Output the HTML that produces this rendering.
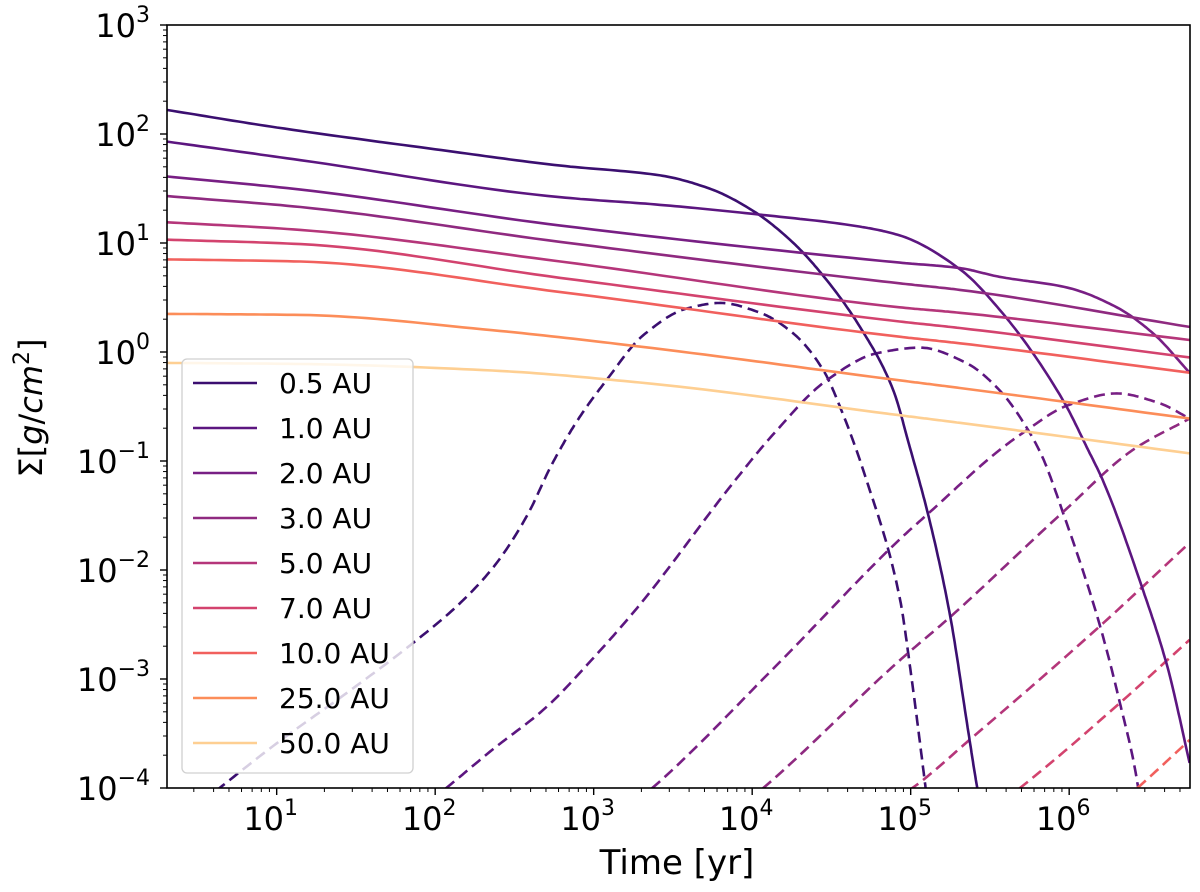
<!DOCTYPE html>
<html><head><meta charset="utf-8"><style>
html,body{margin:0;padding:0;background:#fff;}
svg{display:block;font-family:"DejaVu Sans","Liberation Sans",sans-serif;}
</style></head><body>
<svg id="chart" width="1200" height="892" viewBox="0 0 1200 892">
<defs><clipPath id="plotclip"><rect x="167" y="25" width="1023" height="763"/></clipPath></defs>
<g id="series-layer" clip-path="url(#plotclip)"></g>
<rect x="167" y="25" width="1023" height="763" fill="none" stroke="#000" stroke-width="1.6"/>
<g id="axis-layer"></g>
<text x="677" y="874" font-size="34" text-anchor="middle">Time [yr]</text>
<text transform="translate(42,408) rotate(-90)" font-size="32" text-anchor="middle">Σ[<tspan font-style="italic">g</tspan>/<tspan font-style="italic">cm</tspan><tspan font-size="22" dy="-13">2</tspan><tspan dy="13">]</tspan></text>
<g id="legend-layer"></g>
</svg>
<script>
// ---- data (log10 time [yr], log10 Sigma [g/cm^2]) ----
const labels = ["0.5 AU","1.0 AU","2.0 AU","3.0 AU","5.0 AU","7.0 AU","10.0 AU","25.0 AU","50.0 AU"];
const colors = ["#3b0f70","#5c1680","#781f84","#8f2a80","#b5367a","#d3436e","#f1605d","#fc8d59","#fecf92"];
const xTickExps = [1,2,3,4,5,6];
const yTickExps = [3,2,1,0,-1,-2,-3,-4];
const gasT0 = [0.31,1.0,2.0,2.79,3.42,3.73,4.00,4.26,4.47,4.68,4.89,4.99,5.12,5.25,5.36,5.42,5.5];
const gasS0 = [2.22,2.06,1.86,1.71,1.62,1.50,1.30,1.00,0.66,0.23,-0.35,-0.85,-1.55,-2.43,-3.45,-4.0,-4.6];
const gasT1 = [0.31,1.15,2.79,3.42,4.05,4.68,4.93,5.31,5.56,5.96,6.12,6.21,6.46,6.62,6.76];
const gasS1 = [1.93,1.76,1.42,1.35,1.26,1.15,1.07,0.76,0.39,-0.44,-0.90,-1.17,-2.16,-2.89,-3.77];
const gasT2 = [0.31,1.15,2.79,4.93,5.31,5.56,5.99,6.30,6.53,6.76];
const gasS2 = [1.61,1.49,1.16,0.82,0.77,0.69,0.59,0.41,0.17,-0.19];
const gasT3 = [0.31,1.15,2.79,4.93,5.31,6.76];
const gasS3 = [1.43,1.33,1.01,0.63,0.57,0.23];
const gasT4 = [0.31,1.15,2.79,4.93,5.31,6.76];
const gasS4 = [1.19,1.12,0.83,0.41,0.36,0.11];
const gasT5 = [0.31,1.15,2.79,4.93,5.31,6.76];
const gasS5 = [1.03,0.99,0.68,0.28,0.22,-0.05];
const gasT6 = [0.31,1.15,2.79,4.93,5.31,6.76];
const gasS6 = [0.85,0.83,0.55,0.14,0.08,-0.19];
const gasT7 = [0.31,1.15,2.36,3.29,4.93,5.31,6.76];
const gasS7 = [0.35,0.34,0.20,0.05,-0.26,-0.33,-0.61];
const gasT8 = [0.31,1.15,2.36,3.29,4.93,5.31,6.76];
const gasS8 = [-0.10,-0.11,-0.17,-0.28,-0.58,-0.65,-0.93];
const dustT0 = [0.45,0.64,1.00,1.44,1.86,2.16,2.38,2.58,2.74,2.91,3.08,3.31,3.59,3.80,4.05,4.26,4.45,4.57,4.72,4.93,5.01,5.09,5.12];
const dustS0 = [-4.22,-4.0,-3.59,-3.13,-2.67,-2.30,-1.95,-1.50,-1.02,-0.60,-0.26,0.15,0.40,0.45,0.36,0.17,-0.17,-0.56,-1.17,-2.25,-3.04,-3.95,-4.3];
const dustT1 = [1.90,2.07,2.36,2.70,2.99,3.29,3.88,4.13,4.47,4.79,5.06,5.35,5.56,5.73,5.83,5.96,6.19,6.32,6.43,6.46];
const dustS1 = [-4.2,-4.0,-3.65,-3.26,-2.82,-2.32,-1.20,-0.76,-0.26,-0.01,0.04,-0.10,-0.35,-0.69,-0.96,-1.47,-2.49,-3.22,-3.95,-4.3];
const dustT2 = [3.20,3.37,4.15,4.93,5.12,5.56,5.71,5.99,6.30,6.57,6.76];
const dustS2 = [-4.2,-4.0,-2.88,-1.72,-1.47,-0.90,-0.74,-0.49,-0.38,-0.47,-0.61];
const dustT3 = [3.90,4.07,4.93,5.25,5.96,6.40,6.76];
const dustS3 = [-4.2,-4.0,-2.83,-2.43,-1.47,-0.90,-0.61];
const dustT4 = [4.90,5.01,5.37,6.19,6.76];
const dustS4 = [-4.1,-4.0,-3.56,-2.52,-1.75];
const dustT5 = [5.60,5.69,6.32,6.76];
const dustS5 = [-4.1,-4.0,-3.22,-2.64];
const dustT6 = [6.35,6.43,6.76];
const dustS6 = [-4.1,-4.0,-3.56];

const gasT = [gasT0,gasT1,gasT2,gasT3,gasT4,gasT5,gasT6,gasT7,gasT8];
const gasS = [gasS0,gasS1,gasS2,gasS3,gasS4,gasS5,gasS6,gasS7,gasS8];
const dustT = [dustT0,dustT1,dustT2,dustT3,dustT4,dustT5,dustT6];
const dustS = [dustS0,dustS1,dustS2,dustS3,dustS4,dustS5,dustS6];

// ---- axes ----
const X0=167, X1=1190, Y0=25, Y1=788;
const LTMIN=0.308, LTMAX=0.308+(X1-X0)/158.5;
const LSMIN=-4, LSMAX=3;
function xs(lt){return X0+(lt-LTMIN)/(LTMAX-LTMIN)*(X1-X0);}
function ys(ls){return Y1-(ls-LSMIN)/(LSMAX-LSMIN)*(Y1-Y0);}
const NS="http://www.w3.org/2000/svg";
function mk(tag,attrs,parent){const e=document.createElementNS(NS,tag);for(const k in attrs)e.setAttribute(k,attrs[k]);parent.appendChild(e);return e;}

// monotone cubic (Fritsch-Carlson) in data space
function pathFrom(T,S){
  const n=T.length;
  if(n<3){return "M"+T.map((t,i)=>xs(t).toFixed(1)+","+ys(S[i]).toFixed(1)).join(" L");}
  const d=[],m=new Array(n);
  for(let i=0;i<n-1;i++) d.push((S[i+1]-S[i])/(T[i+1]-T[i]));
  m[0]=d[0]; m[n-1]=d[n-2];
  for(let i=1;i<n-1;i++){
    if(d[i-1]*d[i]<=0) m[i]=0;
    else { const w1=2*(T[i+1]-T[i])+(T[i]-T[i-1]), w2=(T[i+1]-T[i])+2*(T[i]-T[i-1]);
      m[i]=(w1+w2)/(w1/d[i-1]+w2/d[i]); }
  }
  let out="";
  for(let i=0;i<n-1;i++){
    const h=T[i+1]-T[i], steps=20;
    for(let k=(i===0?0:1);k<=steps;k++){
      const s=k/steps, h00=2*s*s*s-3*s*s+1, h10=s*s*s-2*s*s+s, h01=-2*s*s*s+3*s*s, h11=s*s*s-s*s;
      const t=T[i]+s*h, v=h00*S[i]+h10*h*m[i]+h01*S[i+1]+h11*h*m[i+1];
      out+=(out?" L":"M")+xs(t).toFixed(1)+","+ys(v).toFixed(1);
    }
  }
  return out;
}

const sl=document.getElementById("series-layer");
for(let i=0;i<dustT.length;i++){
  const el=mk("path",{d:pathFrom(dustT[i],dustS[i]),fill:"none",stroke:colors[i],"stroke-width":2.6,"stroke-dasharray":"11,6"},sl);
  
  
}
for(let i=0;i<gasT.length;i++){
  const el=mk("path",{d:pathFrom(gasT[i],gasS[i]),fill:"none",stroke:colors[i],"stroke-width":2.6},sl);
  
  
}

// ticks
const al=document.getElementById("axis-layer");
for(let e=0;e<=7;e++){
  for(let m=1;m<10;m++){
    const lt=e+Math.log10(m); if(lt<LTMIN||lt>LTMAX) continue;
    const x=xs(lt), len=m===1?7:4;
    const t=mk("line",{x1:x,y1:Y1,x2:x,y2:Y1+len,stroke:"#000","stroke-width":m===1?1.4:1},al);
    
    
  }
}
for(let e=-4;e<3;e++){
  for(let m=1;m<10;m++){
    const ls=e+Math.log10(m);
    const y=ys(ls), len=m===1?7:4;
    const t=mk("line",{x1:X0,y1:y,x2:X0-len,y2:y,stroke:"#000","stroke-width":m===1?1.4:1},al);
    
    
  }
}
mk("line",{x1:X0,y1:Y0,x2:X0-7,y2:Y0,stroke:"#000","stroke-width":1.4},al);
xTickExps.forEach(e=>{
  const t=mk("text",{x:xs(e)-6,y:830,"font-size":32,"text-anchor":"middle"},al);
  
  
  t.innerHTML='10<tspan font-size="22" dy="-15">'+e+'</tspan>';
});
yTickExps.forEach(e=>{
  const lbl=e<0?'\u2212'+(-e):String(e);
  const t=mk("text",{x:150,y:ys(e)+12,"font-size":32,"text-anchor":"end"},al);
  
  
  t.innerHTML='10<tspan font-size="22" dy="-15">'+lbl+'</tspan>';
});

// legend
const lg=document.getElementById("legend-layer");
mk("rect",{x:182,y:359,width:231,height:414,rx:5,fill:"rgba(255,255,255,0.8)",stroke:"#d0d0d0","stroke-width":1.3},lg);
labels.forEach((l,i)=>{
  const y=383+i*45;
  const g=mk("g",{},lg);
  
  
  mk("line",{x1:193,y1:y,x2:257,y2:y,stroke:colors[i],"stroke-width":2.6},g);
  const t=mk("text",{x:279,y:y+10,"font-size":28},g);
  t.textContent=l;
});
</script>
</body></html>
